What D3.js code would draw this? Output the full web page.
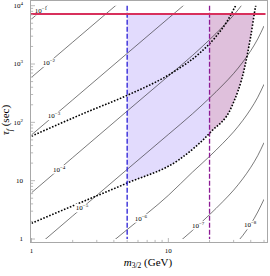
<!DOCTYPE html>
<html>
<head>
<meta charset="utf-8">
<script src="https://cdn.jsdelivr.net/npm/d3@7"></script>
<style>
  body { margin: 0; background: #fff; }
  text { font-family: "Liberation Serif", "Times New Roman", serif; fill: #000; }
</style>
</head>
<body>
<div id="chart"></div>
<script>
var width = 270, height = 276;

// contour levels (labels) and their traced points: m (GeV), tau (sec)
var contourLabels = ["\u22121", "\u22122", "\u22123", "\u22124", "\u22125", "\u22126", "\u22127", "\u22128"];
var contourMass = [
  [1, 2],
  [1, 2, 5],
  [1, 2, 5, 10, 15],
  [1, 2, 5, 10, 15, 20, 25, 30, 35, 40],
  [1, 2, 5, 10, 15, 20, 25, 30, 35, 40, 45, 50],
  [2, 5, 10, 15, 20, 25, 30, 35, 40, 45, 50],
  [5, 10, 15, 20, 25, 30, 35, 40, 45, 50],
  [20, 25, 30, 35, 40, 45, 50]
];
var contourTau = [
  [5900, 23700],
  [592, 2370, 14800],
  [61, 243, 1520, 6070, 13600],
  [6.2, 24.9, 156, 622, 1400, 2610, 4370, 6890, 10800, 16900],
  [0.62, 2.49, 15.6, 62, 140, 261, 437, 689, 1080, 1690, 2690, 4490],
  [0.25, 1.45, 5.6, 14, 26.1, 43.7, 68.9, 108, 169, 269, 449],
  [0.156, 0.62, 1.4, 2.61, 4.37, 6.89, 10.8, 16.9, 26.9, 44.9],
  [0.26, 0.44, 0.75, 1.15, 1.8, 2.9, 4.8]
];
// where each contour label sits (m)
var labelMass = [1.17, 1.34, 1.46, 1.59, 2.34, 6.3, 16.5, 39.6];

// dotted curves
var upperMass = [1, 2.5, 5, 11, 17, 22, 27, 31.3];
var upperTau = [58, 148, 290, 740, 1550, 2850, 5500, 10500];
var lowerMass = [1, 2.5, 5, 12, 20.5, 29, 36, 40, 43.5, 44.2];
var lowerTau = [1.86, 4.6, 9.1, 23, 69, 185, 850, 3000, 10000, 12000];

// limits
var redTau = 7200;
var blueMass = 5;
var purpleMass = 20;

var svg = d3.select("#chart").append("svg")
  .attr("width", width)
  .attr("height", height);

var x = d3.scaleLog().domain([1, 50]).range([31.5, 264]);
var y = d3.scaleLog().domain([1, 1e4]).range([239, 5.7]);

var defs = svg.append("defs");
defs.append("clipPath").attr("id", "plot").append("rect")
  .attr("x", x(1)).attr("y", y(1e4))
  .attr("width", x(50) - x(1)).attr("height", y(1) - y(1e4));
defs.append("clipPath").attr("id", "lav").append("rect")
  .attr("x", x(blueMass)).attr("y", y(redTau))
  .attr("width", x(purpleMass) - x(blueMass)).attr("height", y(1) - y(redTau));
defs.append("clipPath").attr("id", "pink").append("rect")
  .attr("x", x(purpleMass)).attr("y", y(redTau))
  .attr("width", x(50) - x(purpleMass)).attr("height", y(1) - y(redTau));

var line = d3.line()
  .x(function (d) { return x(d[0]); })
  .y(function (d) { return y(d[1]); })
  .curve(d3.curveMonotoneX);

function pts(ms, ts) { return ms.map(function (m, i) { return [m, ts[i]]; }); }

// shaded region: above the lower dotted curve
var lowerPts = pts(lowerMass, lowerTau);
var yCap = y(1e4) - 30;
var aboveLower = line(lowerPts) +
  "L" + x(lowerMass[lowerMass.length - 1]) + "," + yCap +
  "L" + x(1) + "," + yCap + "Z";

svg.append("path").attr("d", aboveLower).attr("fill", "#e2dbfd").attr("clip-path", "url(#lav)");
svg.append("path").attr("d", aboveLower).attr("fill", "#dfc0dc").attr("clip-path", "url(#pink)");

var plot = svg.append("g").attr("clip-path", "url(#plot)");

// contours
contourMass.forEach(function (ms, i) {
  plot.append("path")
    .attr("d", line(pts(ms, contourTau[i])))
    .attr("fill", "none")
    .attr("stroke", "#222")
    .attr("stroke-width", 0.6);
});

// labels on contours
function tauAt(ms, ts, m) {
  for (var j = 0; j < ms.length - 1; j++) {
    if (m >= ms[j] && m <= ms[j + 1]) {
      var t = (Math.log(m) - Math.log(ms[j])) / (Math.log(ms[j + 1]) - Math.log(ms[j]));
      return Math.exp(Math.log(ts[j]) + t * (Math.log(ts[j + 1]) - Math.log(ts[j])));
    }
  }
  return ts[0];
}

var labels = svg.append("g");
contourLabels.forEach(function (lab, i) {
  var m = labelMass[i];
  var px = x(m), py = y(tauAt(contourMass[i], contourTau[i], m));
  var g = labels.append("g");
  var t = g.append("text")
    .attr("x", px).attr("y", py + 2.4)
    .attr("text-anchor", "middle")
    .attr("font-size", 7);
  t.append("tspan").text("10");
  t.append("tspan").attr("dy", -3).attr("font-size", 5).text(lab);
  var bb = t.node().getBBox();
  g.insert("rect", "text")
    .attr("x", bb.x - 0.8).attr("y", bb.y + 0.5)
    .attr("width", bb.width + 1.6).attr("height", bb.height - 0.5)
    .attr("fill", "#fff");
});

// dotted curves
[pts(upperMass, upperTau), lowerPts].forEach(function (p) {
  plot.append("path")
    .attr("d", line(p))
    .attr("fill", "none")
    .attr("stroke", "#000")
    .attr("stroke-width", 1.6)
    .attr("stroke-dasharray", "1.6,1.6");
});

// vertical dashed lines
[[blueMass, "#2a1fd6"], [purpleMass, "#8c1a94"]].forEach(function (d) {
  svg.append("line")
    .attr("x1", x(d[0])).attr("x2", x(d[0]))
    .attr("y1", y(1e4)).attr("y2", y(1))
    .attr("stroke", d[1])
    .attr("stroke-width", 1.3)
    .attr("stroke-dasharray", "5,2");
});

// red horizontal line
svg.append("line")
  .attr("x1", 30.5).attr("x2", x(50) + 1.5)
  .attr("y1", y(redTau)).attr("y2", y(redTau))
  .attr("stroke", "#d8305c")
  .attr("stroke-width", 2);

// frame
var fx0 = 30.5, fx1 = 267.5, fy0 = 0.5, fy1 = 242.5;
svg.append("rect")
  .attr("x", fx0).attr("y", fy0)
  .attr("width", fx1 - fx0).attr("height", fy1 - fy0)
  .attr("fill", "none")
  .attr("stroke", "#a8a8a8")
  .attr("stroke-width", 1);

function isMajor(v) { return Math.abs(Math.log10(v) - Math.round(Math.log10(v))) < 1e-9; }

var ticks = svg.append("g").attr("stroke", "#a8a8a8").attr("stroke-width", 0.8);
x.ticks().forEach(function (v) {
  var len = isMajor(v) ? 4.5 : 2.6;
  ticks.append("line").attr("x1", x(v)).attr("x2", x(v)).attr("y1", fy1).attr("y2", fy1 - len);
});
y.ticks().forEach(function (v) {
  var len = isMajor(v) ? 4.5 : 2.6;
  ticks.append("line").attr("y1", y(v)).attr("y2", y(v)).attr("x1", fx0).attr("x2", fx0 + len);
});

// tick labels
[1, 10].forEach(function (v) {
  svg.append("text")
    .attr("x", x(v)).attr("y", 252.5)
    .attr("text-anchor", "middle")
    .attr("font-size", 7)
    .text(String(v));
});
[1, 10, 100, 1000, 10000].forEach(function (v) {
  var e = Math.round(Math.log10(v));
  var t = svg.append("text")
    .attr("x", 23).attr("y", y(v) + 2.4)
    .attr("text-anchor", "end")
    .attr("font-size", 7);
  if (e < 2) {
    t.text(String(v));
  } else {
    t.append("tspan").text("10");
    t.append("tspan").attr("dy", -3).attr("font-size", 5).text(String(e));
  }
});

// axis titles
var xt = svg.append("text")
  .attr("x", 148).attr("y", 265.5)
  .attr("text-anchor", "middle")
  .attr("font-size", 11);
xt.append("tspan").attr("font-style", "italic").text("m");
xt.append("tspan").attr("dy", 2.5).attr("font-size", 7.5).text("3/2");
xt.append("tspan").attr("dy", -2.5).text(" (GeV)");

var yt = svg.append("text")
  .attr("transform", "translate(9,120) rotate(-90)")
  .attr("text-anchor", "middle")
  .attr("font-size", 11);
yt.append("tspan").attr("font-style", "italic").text("\u03c4");
yt.append("tspan").attr("dy", 2.5).attr("font-size", 7.5).attr("font-style", "italic").text("f");
yt.append("tspan").attr("dy", -2.5).text(" (sec)");
</script>
</body>
</html>
